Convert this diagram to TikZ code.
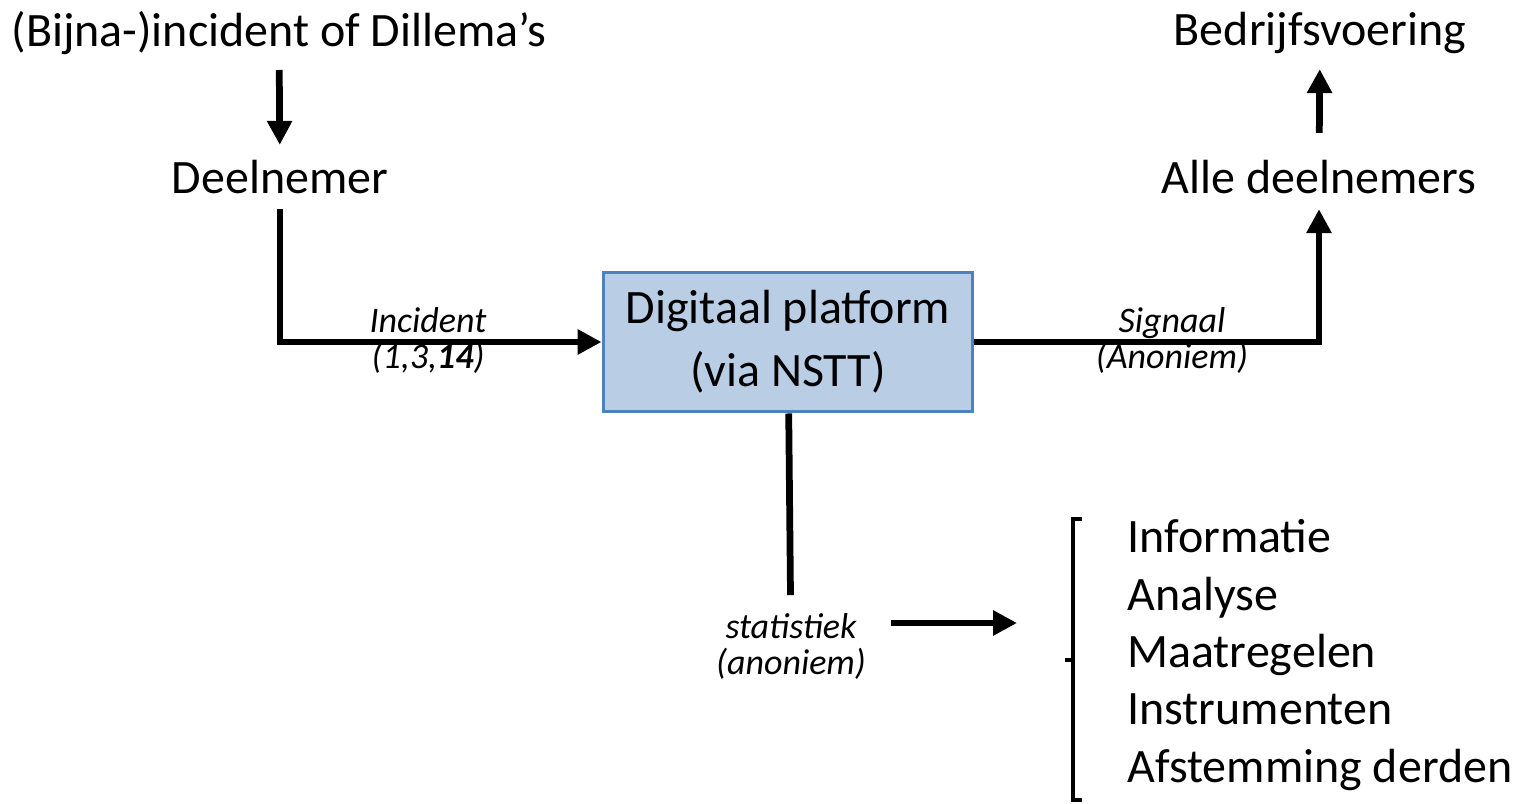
\documentclass[tikz,border=0pt]{standalone}
\usepackage{fontspec}
\setmainfont{Carlito}
\usetikzlibrary{positioning, arrows.meta}
\definecolor{boxfill}{RGB}{185,205,229}
\definecolor{boxedge}{RGB}{79,129,189}

\begin{document}
\begin{tikzpicture}[
    x=0.02cm, y=-0.02cm,
    >={Triangle[length=0.48cm,width=0.48cm]},
    lbl/.style={inner sep=0.3cm, font=\fontsize{27.3}{32}\selectfont},
    tag/.style={inner sep=0pt, align=center, font=\fontsize{20.5}{20.5}\selectfont\itshape},
    block/.style={rectangle, draw=boxedge, fill=boxfill, line width=0.06cm, minimum width=7.4cm, minimum height=2.8cm, text centered, align=center, font=\fontsize{27.3}{35.7}\selectfont},
    wire/.style={line width=0.135cm},
    arrow/.style={wire,->}
]
\useasboundingbox (0,0) rectangle (1517,804);
% Text nodes
\node (trigger) [lbl] at (279,33) {(Bijna-)incident of Dillema’s};
\node (deelnemer) [lbl] at (280,177) {Deelnemer};
\node (platform) [block] at (788,342) {Digitaal platform\\(via NSTT)};
\node (alle) [lbl] at (1319,177) {Alle deelnemers};
\node (bedrijf) [lbl] at (1320,33) {Bedrijfsvoering};
\node (stat) [tag, inner xsep=0.5cm, inner ysep=0.35cm] at (791,646) {statistiek\\(anoniem)};
\node (lijst) [anchor=west, inner sep=0pt, align=left, font=\fontsize{27.3}{32.6}\selectfont] at (1127,655) {Informatie\\Analyse\\Maatregelen\\Instrumenten\\Afstemming derden};
% Labels
\node (incident) [tag] at (428,340) {Incident\\(1,3,\textbf{14})};
\node (signaal) [tag] at (1172,340) {Signaal\\(Anoniem)};
\coordinate (doel) at (1017,623);
% Arrows
\draw [arrow] (trigger) -- (deelnemer);
\draw [arrow] (deelnemer) |- (platform);
\draw [arrow] (platform) -| (alle);
\draw [arrow, shorten <=0.24cm] (alle) -- (bedrijf);
\draw [wire] (platform) -- (stat);
\draw [arrow] (stat.east |- doel) -- (doel);
% Bracket
\draw [line width=0.07cm] (1082,519) -- (1073,519) -- (1073,800) -- (1082,800);
\draw [line width=0.07cm] (1073,660) -- (1065,660);
\end{tikzpicture}
\end{document}
